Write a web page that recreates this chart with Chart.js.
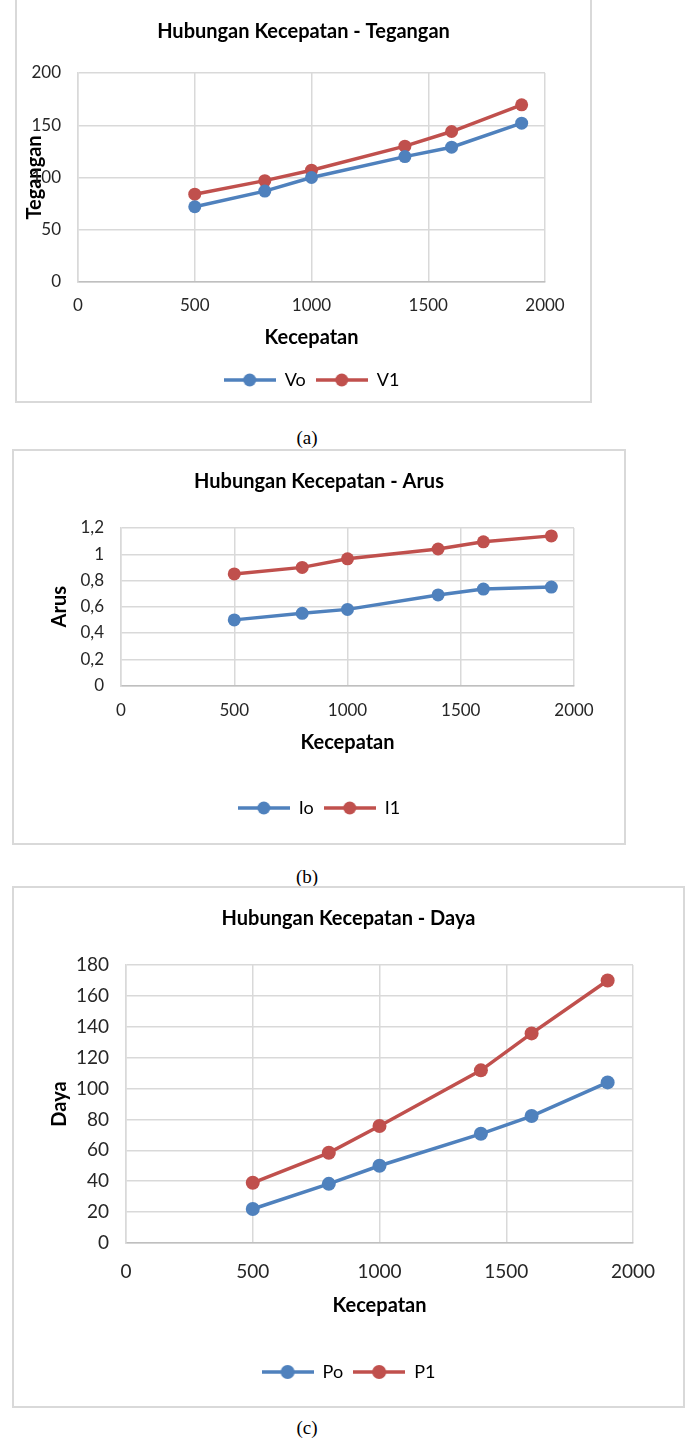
<!DOCTYPE html>
<html>
<head>
<meta charset="utf-8">
<title>Hubungan Kecepatan</title>
<script src="https://cdn.jsdelivr.net/npm/chart.js@4.4.1/dist/chart.umd.min.js"></script>
<style>
    html, body { margin: 0; padding: 0; background: #fff; }
    body { position: relative; width: 688px; height: 1440px; overflow: hidden; }
    .box { position: absolute; box-sizing: border-box; border: 2px solid #d9d9d9; }
    .chart { position: absolute; }
    .caption { position: absolute; width: 100px; margin-left: -50px; text-align: center; line-height: 22px;
               font-family: "Liberation Serif", serif; font-size: 19px; color: #000; }
</style>
</head>
<body>
<div class="box" style="left:15px;top:-2px;width:577px;height:405px"></div>
<canvas id="chartA" class="chart" width="577" height="403" style="left:15px;top:0"></canvas>
<div class="caption" style="left:307px;top:427px">(a)</div>

<div class="box" style="left:12px;top:449px;width:614px;height:396px"></div>
<canvas id="chartB" class="chart" width="614" height="396" style="left:12px;top:449px"></canvas>
<div class="caption" style="left:307px;top:866px">(b)</div>

<div class="box" style="left:12px;top:886px;width:673px;height:522px"></div>
<canvas id="chartC" class="chart" width="673" height="522" style="left:12px;top:886px"></canvas>
<div class="caption" style="left:307px;top:1417px">(c)</div>

<script>
// Data
const kecepatan = [500, 800, 1000, 1400, 1600, 1900];
const xTicks = [0, 500, 1000, 1500, 2000];

const teganganVo = [72, 87, 100, 120, 129, 152];
const teganganV1 = [84, 97, 107, 130, 144, 169.5];
const teganganTicks = [0, 50, 100, 150, 200];

const arusIo = [0.50, 0.55, 0.58, 0.69, 0.735, 0.75];
const arusI1 = [0.85, 0.90, 0.965, 1.04, 1.095, 1.14];
const arusTicks = [0, 0.2, 0.4, 0.6, 0.8, 1, 1.2];

const dayaPo = [22, 38.3, 50, 70.7, 82.2, 104];
const dayaP1 = [39, 58.4, 75.8, 111.8, 135.7, 170];
const dayaTicks = [0, 20, 40, 60, 80, 100, 120, 140, 160, 180];

const BLUE = '#4f81bd';
const RED = '#c0504d';
const FONT = 'Lato';

// legend marker: line with a dot in the middle
function legendMark(color, r) {
    const c = document.createElement('canvas');
    c.width = 52;
    c.height = 16;
    const g = c.getContext('2d');
    g.strokeStyle = color;
    g.lineWidth = 3.5;
    g.beginPath();
    g.moveTo(0, 8);
    g.lineTo(52, 8);
    g.stroke();
    g.fillStyle = color;
    g.beginPath();
    g.arc(26, 8, r, 0, Math.PI * 2);
    g.fill();
    return c;
}

function fmt(v) {
    return String(Math.round(v * 10) / 10).replace('.', ',');
}

function series(label, values, color, r) {
    return {
        label: label,
        data: kecepatan.map((x, i) => ({ x: x, y: values[i] })),
        borderColor: color,
        backgroundColor: color,
        borderWidth: 3.5,
        pointRadius: r,
        pointHoverRadius: r,
        pointBorderWidth: 0,
        tension: 0
    };
}

// g: geometry in canvas pixels (plot area, title / legend centres)
function makeChart(id, g, texts, sets, yTicks) {
    const fs = 20, lh = fs * 1.2;
    const lfs = 18, lp = 10;
    const legendTop = g.legendY - lp - lfs / 2;
    const padBottom = g.h - legendTop - (lfs + lp + 10);
    const marks = [legendMark(BLUE, g.r), legendMark(RED, g.r)];

    new Chart(document.getElementById(id), {
        type: 'line',
        data: {
            datasets: [
                series(texts.s0, sets[0], BLUE, g.r),
                series(texts.s1, sets[1], RED, g.r)
            ]
        },
        options: {
            responsive: false,
            animation: false,
            events: [],
            layout: {
                padding: { left: 0, top: 0, right: 0, bottom: padBottom }
            },
            plugins: {
                title: {
                    display: true,
                    text: texts.title,
                    color: '#000',
                    font: { family: FONT, size: fs, weight: 'bold' },
                    padding: { top: g.titleY - lh / 2, bottom: g.top - g.titleY - lh / 2 }
                },
                legend: {
                    position: 'bottom',
                    fullSize: !g.legendOnPlot,
                    labels: {
                        usePointStyle: true,
                        pointStyleWidth: 52,
                        padding: lp,
                        color: '#000',
                        font: { family: FONT, size: lfs },
                        generateLabels: chart => {
                            const items = Chart.defaults.plugins.legend.labels.generateLabels(chart);
                            items.forEach((it, i) => { it.pointStyle = marks[i]; });
                            return items;
                        }
                    }
                },
                tooltip: { enabled: false }
            },
            scales: {
                x: {
                    type: 'linear',
                    min: 0,
                    max: 2000,
                    afterBuildTicks: s => { s.ticks = xTicks.map(v => ({ value: v })); },
                    afterFit: s => { s.height = legendTop - g.bottom; },
                    grid: { color: '#d9d9d9', lineWidth: 1.5, drawTicks: false },
                    border: { color: '#bfbfbf', width: 1.5 },
                    ticks: {
                        padding: g.xTickY - g.bottom - g.tickSize * 0.6,
                        color: '#262626',
                        font: { family: FONT, size: g.tickSize },
                        callback: v => String(v)
                    },
                    title: {
                        display: true,
                        text: 'Kecepatan',
                        color: '#000',
                        font: { family: FONT, size: fs, weight: 'bold' },
                        padding: { top: 0, bottom: legendTop - g.xTitleY - lh / 2 }
                    }
                },
                y: {
                    type: 'linear',
                    min: yTicks[0],
                    max: yTicks[yTicks.length - 1],
                    afterBuildTicks: s => { s.ticks = yTicks.map(v => ({ value: v })); },
                    afterFit: s => { s.width = g.left; },
                    grid: { color: '#d9d9d9', lineWidth: 1.5, drawTicks: false },
                    border: { color: '#d9d9d9', width: 1.5 },
                    ticks: {
                        padding: 17,
                        color: '#262626',
                        font: { family: FONT, size: g.tickSize },
                        callback: v => fmt(v)
                    },
                    title: {
                        display: true,
                        text: texts.yTitle,
                        color: '#000',
                        font: { family: FONT, size: fs, weight: 'bold' },
                        padding: { top: g.yTitleX - lh / 2, bottom: 0 }
                    }
                },
                // empty right axis, only keeps the space right of the plot
                spacer: {
                    type: 'linear',
                    position: 'right',
                    min: 0,
                    max: 1,
                    afterFit: s => { s.width = g.w - g.right; },
                    grid: { display: false },
                    border: { display: false },
                    ticks: { display: false }
                }
            }
        }
    });
}

makeChart('chartA',
    { w: 577, h: 403, left: 63, right: 530, top: 73, bottom: 282, r: 6.5, legendOnPlot: true,
      titleY: 32, yTitleX: 20, xTickY: 306, xTitleY: 338, legendY: 380, tickSize: 17 },
    { title: 'Hubungan Kecepatan - Tegangan', yTitle: 'Tegangan', s0: 'Vo', s1: 'V1' },
    [teganganVo, teganganV1], teganganTicks);

makeChart('chartB',
    { w: 614, h: 396, left: 109, right: 562, top: 79, bottom: 236.5, r: 6.5,
      titleY: 33, yTitleX: 48, xTickY: 262, xTitleY: 294, legendY: 359, tickSize: 17 },
    { title: 'Hubungan Kecepatan - Arus', yTitle: 'Arus', s0: 'Io', s1: 'I1' },
    [arusIo, arusI1], arusTicks);

makeChart('chartC',
    { w: 673, h: 522, left: 114, right: 621, top: 79, bottom: 357, r: 7,
      titleY: 33, yTitleX: 48, xTickY: 386, xTitleY: 420, legendY: 486, tickSize: 19 },
    { title: 'Hubungan Kecepatan - Daya', yTitle: 'Daya', s0: 'Po', s1: 'P1' },
    [dayaPo, dayaP1], dayaTicks);
</script>
</body>
</html>
